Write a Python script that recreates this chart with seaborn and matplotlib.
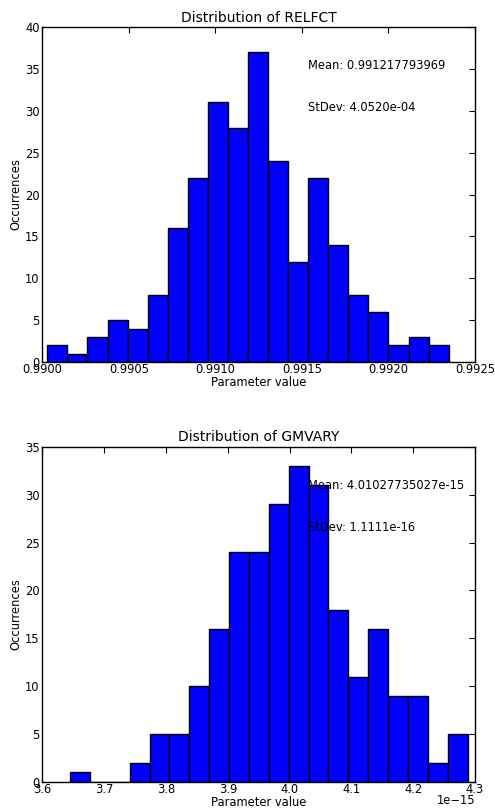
import numpy as np
import pandas as pd
import matplotlib
matplotlib.use("Agg")
import matplotlib.pyplot as plt
import seaborn as sns
from matplotlib.ticker import FormatStrFormatter

# ---- data ----
relfct_counts = [2, 1, 3, 5, 4, 8, 16, 22, 31, 28, 37, 24, 12, 22, 14, 8, 6, 2, 3, 2]
relfct_range = (0.990029, 0.992348)
relfct_mean_text = "Mean: 0.991217793969"
relfct_std_text = "StDev: 4.0520e-04"

gmvary_counts = [1, 0, 0, 2, 5, 5, 10, 16, 24, 24, 29, 33, 31, 18, 11, 16, 9, 9, 2, 5]
gmvary_range = (3.6448e-15, 4.2882e-15)
gmvary_mean_text = "Mean: 4.01027735027e-15"
gmvary_std_text = "StDev: 1.1111e-16"

relfct_xticks = [0.9900, 0.9905, 0.9910, 0.9915, 0.9920, 0.9925]
gmvary_xticks = [3.6e-15, 3.7e-15, 3.8e-15, 3.9e-15, 4.0e-15, 4.1e-15, 4.2e-15, 4.3e-15]
relfct_yticks = list(range(0, 41, 5))
gmvary_yticks = list(range(0, 36, 5))

sns.set_style("white")
plt.rcParams.update({
    "font.family": ["DejaVu Sans"],
    "text.color": "black",
    "axes.labelcolor": "black",
    "xtick.color": "black",
    "ytick.color": "black",
    "xtick.direction": "in",
    "ytick.direction": "in",
    "xtick.top": True,
    "ytick.right": True,
    "xtick.major.size": 4,
    "ytick.major.size": 4,
    "axes.edgecolor": "black",
    "axes.linewidth": 1.0,
})

fig = plt.figure(figsize=(4.95, 8.11), dpi=100)
ax1 = fig.add_axes([0.0855, 0.5536, 0.874, 0.413])
ax2 = fig.add_axes([0.0855, 0.0360, 0.874, 0.413])


def draw(ax, counts, rng, title, mean_t, std_t, xticks, yticks, xlim, ylim):
    n = len(counts)
    width = (rng[1] - rng[0]) / n
    centers = rng[0] + width * (np.arange(n) + 0.5)
    df = pd.DataFrame({"value": centers, "count": np.asarray(counts, dtype=float)})
    sns.histplot(data=df, x="value", weights="count", bins=n, binrange=rng, ax=ax,
                 color="#0000ff", edgecolor="black", linewidth=1.0, alpha=1.0)
    ax.set_xlim(*xlim)
    ax.set_ylim(*ylim)
    ax.set_xticks(xticks)
    ax.set_yticks(yticks)
    ax.set_title(title, fontsize=10, pad=4)
    ax.set_xlabel("Parameter value", fontsize=8.3, labelpad=0)
    ax.set_ylabel("Occurrences", fontsize=8.3, labelpad=2)
    ax.tick_params(axis="y", labelsize=8.3, pad=2)
    ax.tick_params(axis="x", labelsize=8.3, pad=1)
    ax.text(0.613, 0.875, mean_t, transform=ax.transAxes, fontsize=8.3)
    ax.text(0.613, 0.75, std_t, transform=ax.transAxes, fontsize=8.3)
    for s in ax.spines.values():
        s.set_visible(True)
        s.set_color("black")


draw(ax1, relfct_counts, relfct_range, "Distribution of RELFCT",
     relfct_mean_text, relfct_std_text, relfct_xticks, relfct_yticks,
     (0.9900, 0.9925), (0, 40))
ax1.xaxis.set_major_formatter(FormatStrFormatter("%.4f"))

draw(ax2, gmvary_counts, gmvary_range, "Distribution of GMVARY",
     gmvary_mean_text, gmvary_std_text, gmvary_xticks, gmvary_yticks,
     (3.6e-15, 4.3e-15), (0, 35))
off = ax2.xaxis.get_offset_text()
off.set_fontsize(8.3)
# keep the offset label inside the figure, level with the x label
ax2.xaxis._update_offset_text_position = lambda *a, **k: None
off.set_y(4)
off.set_verticalalignment("bottom")

fig.savefig("out.png", dpi=100, facecolor="white")
